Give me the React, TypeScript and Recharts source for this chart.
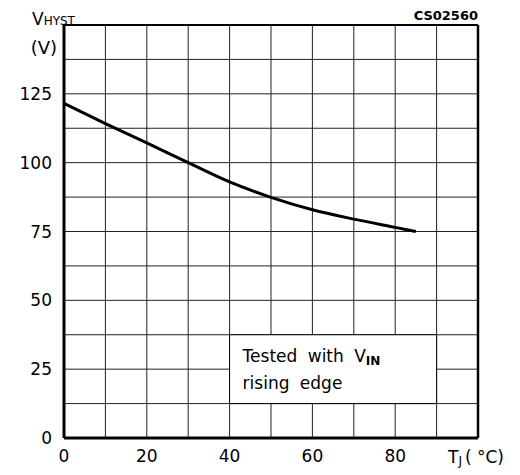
import React from "react";
import {
  LineChart,
  Line,
  XAxis,
  YAxis,
  CartesianGrid,
  ReferenceArea,
  ReferenceLine,
  Customized,
} from "recharts";

// junction temperature (°C) and hysteresis voltage (V)
const tempC = [0, 10, 20, 30, 40, 50, 60, 70, 80, 85];
const vHyst = [121.5, 114.2, 107.2, 100, 93, 87.4, 82.9, 79.5, 76.5, 75];

const xTicks = [0, 10, 20, 30, 40, 50, 60, 70, 80, 90, 100];
const xLabels = [0, 20, 40, 60, 80];
const yTicks = [0, 12.5, 25, 37.5, 50, 62.5, 75, 87.5, 100, 112.5, 125, 137.5, 150];
const yLabels = [0, 25, 50, 75, 100, 125];

const data = tempC.map((t, i) => ({ t, v: vHyst[i] }));

const FONT = "'DejaVu Sans', sans-serif";

function NoteBox(props: any) {
  const vb = props.viewBox || {};
  const x = vb.x + 13;
  const y = vb.y;
  return (
    <g fontFamily={FONT} fontSize={17} fill="#000" style={{ wordSpacing: 5 }}>
      <text x={x} y={y + 27}>
        Tested with V
        <tspan fontSize={12} fontWeight="bold" dy={3}>
          IN
        </tspan>
      </text>
      <text x={x} y={y + 54}>
        rising edge
      </text>
    </g>
  );
}

function Titles() {
  return (
    <g fontFamily={FONT} fill="#000">
      <text x={32} y={25} fontSize={17}>
        V<tspan fontSize={12}>HYST</tspan>
      </text>
      <text x={57} y={54} fontSize={18} textAnchor="end">
        (V)
      </text>
      <text x={478} y={20} fontSize={13} fontWeight="bold" textAnchor="end">
        CS02560
      </text>
      <text x={448} y={463} fontSize={17}>
        T<tspan fontSize={12} dy={2}>J</tspan>
        <tspan dx={3} dy={-2}>( °C)</tspan>
      </text>
    </g>
  );
}

export default function App() {
  return (
    <div style={{ position: "absolute", left: 0, top: 0, background: "#fff" }}>
      <LineChart
        width={520}
        height={475}
        data={data}
        margin={{ top: 25, right: 42, bottom: 0, left: 0 }}
      >
        <CartesianGrid stroke="#222" strokeWidth={1} />
        <XAxis
          type="number"
          dataKey="t"
          domain={[0, 100]}
          ticks={xTicks}
          interval={0}
          height={37}
          tickLine={false}
          axisLine={{ stroke: "#000", strokeWidth: 3 }}
          tick={{ fill: "#000", fontSize: 17, fontFamily: FONT }}
          tickFormatter={(v: number) => (xLabels.includes(v) ? String(v) : "")}
          tickMargin={6}
        />
        <YAxis
          type="number"
          domain={[0, 150]}
          ticks={yTicks}
          interval={0}
          width={64}
          tickLine={false}
          axisLine={{ stroke: "#000", strokeWidth: 3 }}
          tick={{ fill: "#000", fontSize: 17, fontFamily: FONT }}
          tickFormatter={(v: number) => (yLabels.includes(v) ? String(v) : "")}
          tickMargin={6}
        />
        <ReferenceLine x={100} stroke="#000" strokeWidth={2.5} />
        <ReferenceLine y={150} stroke="#000" strokeWidth={2} />
        <ReferenceArea
          x1={40}
          x2={90}
          y1={12.5}
          y2={37.5}
          fill="#fff"
          fillOpacity={1}
          stroke="#000"
          strokeWidth={1}
          label={(p: any) => <NoteBox {...p} />}
        />
        <Line
          type="monotone"
          dataKey="v"
          stroke="#000"
          strokeWidth={3}
          dot={false}
          isAnimationActive={false}
        />
        <Customized component={Titles} />
      </LineChart>
    </div>
  );
}
